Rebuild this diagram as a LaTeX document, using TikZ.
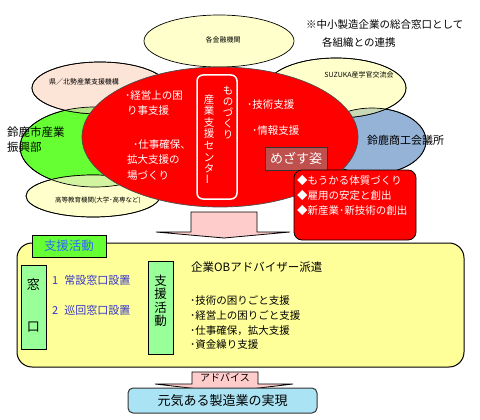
\documentclass[tikz,border=0pt]{standalone}
\usepackage{fontspec}
\setmainfont{Noto Sans CJK JP}
\usetikzlibrary{shapes.geometric}
\definecolor{redc}{HTML}{FF0000}
\definecolor{peachE}{HTML}{FCE4D6}
\definecolor{lightY}{HTML}{FFFFCC}
\definecolor{greenE}{HTML}{66FF33}
\definecolor{blueE}{HTML}{95B3D7}
\definecolor{blendGP}{HTML}{B6E487}
\definecolor{blendGY}{HTML}{D2F3A0}
\definecolor{blendBY}{HTML}{C9D9B6}
\definecolor{boxY}{HTML}{FFFF99}
\definecolor{lblGreen}{HTML}{66FF33}
\definecolor{boxGreen}{HTML}{99FF99}
\definecolor{txtBlue}{HTML}{3366FF}
\definecolor{itemBlue}{HTML}{3333CC}
\definecolor{cyanBox}{HTML}{AAE3F3}
\definecolor{mezasu}{HTML}{C0504D}
\definecolor{arrowPink}{HTML}{FFCCCC}
\begin{document}
\begin{tikzpicture}[x=1pt,y=-1pt,
  ell/.style={ellipse, draw=black, line width=0.7pt, inner sep=0},
  lbl/.style={inner sep=0, anchor=west},
  f/.style={font=\fontsize{#1}{#1}\selectfont},
  wt/.style={text=white},
  vert/.style={inner sep=0, align=center},
  boxg/.style={draw=black, line width=1pt, fill=boxGreen, inner sep=0}
]
\useasboundingbox (0,0) rectangle (480,420);
\fill[white] (0,0) rectangle (480,420);

% title
\node[lbl, f=10.5] (title1) at (306,25) {※中小製造企業の総合窓口として};
\node[lbl, f=10.5] (title2) at (322,43) {各組織との連携};

% background ellipses
\node[ell, fill=greenE, minimum width=150pt, minimum height=80pt] (shi) at (95,147) {};
\node[ell, fill=blueE, minimum width=108pt, minimum height=66pt] (cci) at (372,141) {};
\node[ell, fill=lightY, minimum width=150pt, minimum height=52pt] (kinyu) at (219,41) {};
\node[ell, fill=lightY, minimum width=140pt, minimum height=60pt] (suzuka) at (336,88) {};
\node[ell, fill=peachE, minimum width=136pt, minimum height=52pt] (ken) at (100,88) {};
\node[ell, fill=lightY, minimum width=134pt, minimum height=42pt] (koto) at (93,196) {};

% overlaps
\begin{scope}
  \clip (95,147) ellipse [x radius=75, y radius=40];
  \fill[blendGP] (100,88) ellipse [x radius=68, y radius=26];
  \fill[blendGY] (93,196) ellipse [x radius=67, y radius=21];
\end{scope}
\begin{scope}
  \clip (372,141) ellipse [x radius=54, y radius=33];
  \fill[blendBY] (336,88) ellipse [x radius=70, y radius=30];
\end{scope}
\draw[line width=0.7pt] (95,147) ellipse [x radius=75, y radius=40];
\draw[line width=0.7pt] (100,88) ellipse [x radius=68, y radius=26];
\draw[line width=0.7pt] (93,196) ellipse [x radius=67, y radius=21];
\draw[line width=0.7pt] (372,141) ellipse [x radius=54, y radius=33];
\draw[line width=0.7pt] (336,88) ellipse [x radius=70, y radius=30];

% ellipse labels
\node[inner sep=0, f=7] (kinyuT) at (223,40) {各金融機関};
\node[inner sep=0, f=7] (kenT) at (84,82) {県／北勢産業支援機構};
\node[inner sep=0, f=7] (suzukaT) at (359,75) {SUZUKA産学官交流会};
\node[inner sep=0, f=6.5] (kotoT) at (98,200) {高等教育機関(大学･高専など)};
\node[lbl, f=11.5] (shiT1) at (7,132) {鈴鹿市産業};
\node[lbl, f=11.5] (shiT2) at (7,147) {振興部};
\node[lbl, f=11] (cciT) at (367,140) {鈴鹿商工会議所};

% red centre ellipse
\node[ell, fill=redc, draw=black!70, minimum width=276pt, minimum height=140pt] (center) at (220,137) {};
\node[draw=white, line width=1.5pt, rounded corners=6pt, minimum width=40pt, minimum height=124pt, inner sep=0] (cframe) at (217,137) {};
\node[vert, wt, font=\fontsize{10.5}{11}\selectfont, anchor=north] (mono) at (228,86) {も\\の\\づ\\く\\り};
\node[vert, wt, font=\fontsize{10.5}{11.6}\selectfont, anchor=north] (sangyo) at (209,94) {産\\業\\支\\援\\セ\\ン\\タ\\\rotatebox{90}{ー}};

\node[lbl, wt, f=10.5] (r1a) at (125,96) {･経営上の困};
\node[lbl, wt, f=10.5] (r1b) at (127,111) {り事支援};
\node[lbl, wt, f=10.5] (r2a) at (133,145) {･仕事確保、};
\node[lbl, wt, f=10.5] (r2b) at (127,160) {拡大支援の};
\node[lbl, wt, f=10.5] (r2c) at (127,176) {場づくり};
\node[lbl, wt, f=10.5] (r3) at (247,105) {･技術支援};
\node[lbl, wt, f=10.5] (r4) at (252,131) {･情報支援};

% mezasu
\node[draw=black!80, fill=mezasu, minimum width=62pt, minimum height=23pt, inner sep=0, wt, f=13] (mezasu) at (296,158.5) {めざす姿};
\node[draw=black, line width=0.8pt, fill=redc, rounded corners=8pt, minimum width=122pt, minimum height=70pt, inner sep=0] (goal) at (355,205) {};
\node[lbl, wt, f=10.5] (g1) at (297,181) {◆もうかる体質づくり};
\node[lbl, wt, f=10.5] (g2) at (297,196) {◆雇用の安定と創出};
\node[lbl, wt, f=10.5] (g3) at (297,211) {◆新産業･新技術の創出};

% top block arrow
\draw[fill=arrowPink, line width=0.8pt] (191,212) -- (257,212) -- (257,232) -- (290,232) -- (224,238) -- (156,232) -- (191,232) -- cycle;

% big yellow box
\node[draw=black, line width=1pt, fill=boxY, rounded corners=15pt, minimum width=447pt, minimum height=124pt, inner sep=0] (support) at (240.5,305) {};
\node[draw=black, line width=0.8pt, fill=lblGreen, minimum width=74pt, minimum height=22pt, inner sep=0, text=txtBlue, f=12.5] (supLbl) at (69,246) {支援活動};

\node[boxg, minimum width=25pt, minimum height=84pt] (mado) at (33.5,307) {};
\node[inner sep=0, f=13] (madoT1) at (33.5,285) {窓};
\node[inner sep=0, f=13] (madoT2) at (33.5,327) {口};
\node[lbl, text=itemBlue, f=11] (m1) at (52,280) {1\hspace{6pt}常設窓口設置};
\node[lbl, text=itemBlue, f=11] (m2) at (52,310) {2\hspace{6pt}巡回窓口設置};

\node[boxg, minimum width=25pt, minimum height=93pt] (katsu) at (160.5,307.5) {};
\node[vert, font=\fontsize{12.5}{13.5}\selectfont] (katsuT) at (160.5,301) {支\\援\\活\\動};

\node[lbl, f=11.5] (ob) at (191,267) {企業OBアドバイザー派遣};
\node[lbl, f=10.5] (b1) at (190,301) {･技術の困りごと支援};
\node[lbl, f=10.5] (b2) at (190,316) {･経営上の困りごと支援};
\node[lbl, f=10.5] (b3) at (190,331) {･仕事確保，拡大支援};
\node[lbl, f=10.5] (b4) at (190,345) {･資金繰り支援};

% bottom block arrow
\draw[fill=arrowPink, line width=0.8pt] (192,372) -- (258,372) -- (258,384) -- (293,384) -- (225,392) -- (155,384) -- (192,384) -- cycle;
\node[inner sep=0, f=10] (advice) at (225,378) {アドバイス};

% bottom box
\node[draw=black!80, line width=1pt, fill=cyanBox, rounded corners=5pt, minimum width=189pt, minimum height=25pt, inner sep=0, f=13] (goalBox) at (222.5,400.5) {元気ある製造業の実現};
\end{tikzpicture}
\end{document}
